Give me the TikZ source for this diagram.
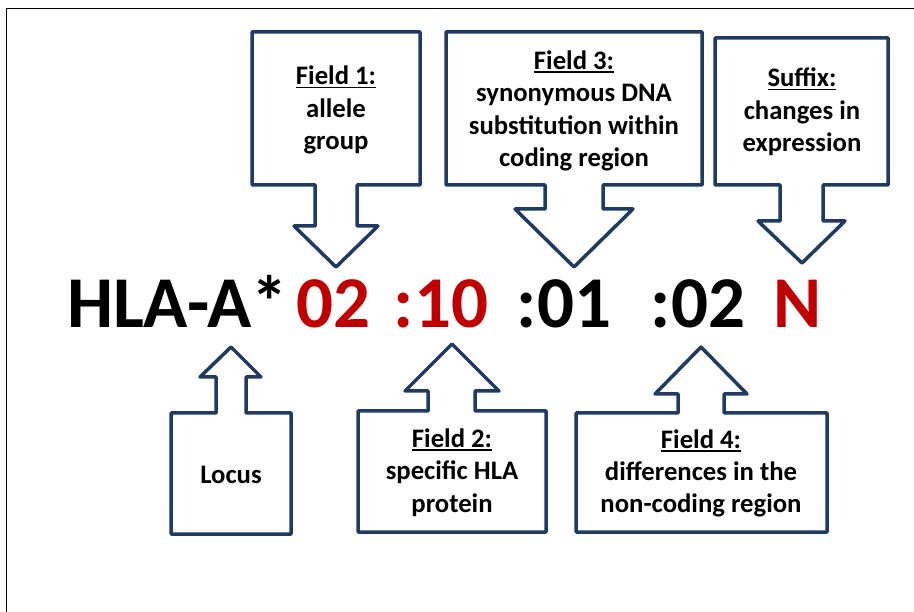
\documentclass[tikz,border=0pt]{standalone}
\usepackage{fontspec}
\setmainfont{Carlito}
\definecolor{navy}{RGB}{31,58,99}
\definecolor{hlared}{RGB}{192,0,0}
\newlength\ulw
\newcommand\ulbold[1]{\settowidth\ulw{#1}\rlap{\rule[-3.5pt]{\ulw}{1.8pt}}#1}
\begin{document}
\begin{tikzpicture}[x=1pt,y=-1pt,
  callout/.style={draw=navy,line width=3.5pt,line join=round,fill=white},
  lbl/.style={font=\fontsize{26.7}{32.5}\selectfont\bfseries,align=center,inner sep=0pt,anchor=base},
  big/.style={font=\fontsize{73}{80}\selectfont\bfseries,inner sep=0pt,anchor=base}]
\useasboundingbox (0,0) rectangle (914,612);
\draw[line width=0.8pt] (6.5,612) -- (6.5,8) -- (914,8);
% callouts pointing down
\draw[callout] (252,32) -- (420,32) -- (420,185) -- (357,185) -- (357,226) -- (378,226) -- (336,267) -- (294,226) -- (315,226) -- (315,185) -- (252,185) -- cycle;
\draw[callout] (446,32) -- (702,32) -- (702,185) -- (603,185) -- (603,209) -- (633,209) -- (574,267) -- (515,209) -- (545,209) -- (545,185) -- (446,185) -- cycle;
\draw[callout] (715,38) -- (888,38) -- (888,185) -- (823,185) -- (823,221) -- (845,221) -- (802,263) -- (758,221) -- (780,221) -- (780,185) -- (715,185) -- cycle;
% callouts pointing up
\draw[callout] (171,534) -- (291,534) -- (291,413) -- (246,413) -- (246,377) -- (261,377) -- (231,347) -- (200,377) -- (216,377) -- (216,413) -- (171,413) -- cycle;
\draw[callout] (358,532) -- (546,532) -- (546,411) -- (475,411) -- (475,391) -- (499,391) -- (452,344) -- (405,391) -- (428,391) -- (428,411) -- (358,411) -- cycle;
\draw[callout] (576,532) -- (827,532) -- (827,413) -- (724,413) -- (724,394) -- (747,394) -- (701,347) -- (655,394) -- (678,394) -- (678,413) -- (576,413) -- cycle;
% labels (anchor base = baseline of last line)
\node[lbl] (f1) at (336,150) {\ulbold{Field 1:}\\allele\\group};
\node[lbl] (f3) at (574,167) {\ulbold{Field 3:}\\synonymous DNA\\substitution within\\coding region};
\node[lbl] (sf) at (802,152) {\ulbold{Suffix:}\\changes in\\expression};
\node[lbl] (lc) at (231,483) {Locus};
\node[lbl] (f2) at (452,512) {\ulbold{Field 2:}\\specific HLA\\protein};
\node[lbl] (f4) at (701,513) {\ulbold{Field 4:}\\differences in the\\non-coding region};
% main name
\node[big] (hla) at (177.5,328) {HLA-A*};
\node[big,text=hlared] (g1) at (333,328) {02};
\node[big,text=hlared] (g2) at (441,328) {:10};
\node[big] (g3) at (564,328) {:01};
\node[big] (g4) at (698,328) {:02};
\node[big,text=hlared] (sx) at (798,328) {N};
\end{tikzpicture}
\end{document}
